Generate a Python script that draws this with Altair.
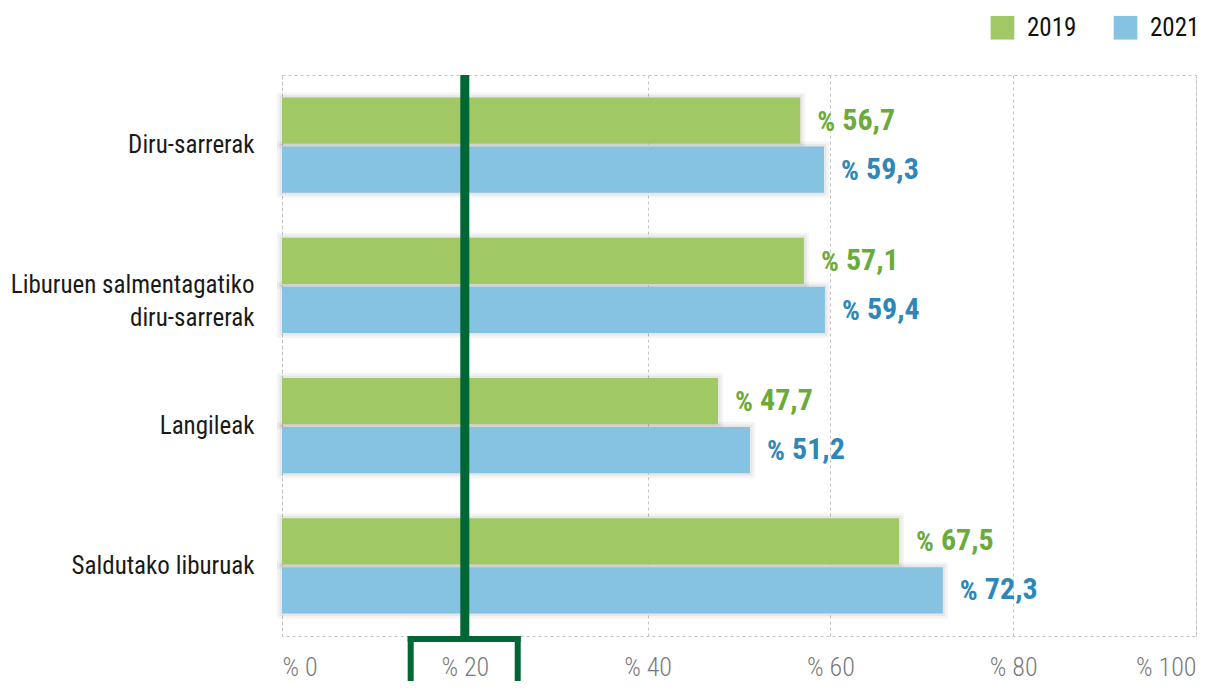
import altair as alt
import pandas as pd

categories = ["Diru-sarrerak", "Liburuen salmentagatiko diru-sarrerak", "Langileak", "Saldutako liburuak"]
years = ["2019", "2021"]
v2019 = [56.7, 57.1, 47.7, 67.5]
v2021 = [59.3, 59.4, 51.2, 72.3]
x_ticks = [0, 20, 40, 60, 80, 100]
highlight = 20
box_edges = [14.08, 25.79]

rows = []
for c, a, b in zip(categories, v2019, v2021):
    rows.append({"cat": c, "year": "2019", "v": a, "lab": f"{a:.1f}".replace(".", ",")})
    rows.append({"cat": c, "year": "2021", "v": b, "lab": f"{b:.1f}".replace(".", ",")})
df = pd.DataFrame(rows)

FONT = "'Liberation Sans Narrow', 'Roboto Condensed', Roboto, sans-serif"
GREEN, BLUE = "#a0c864", "#86c2e2"
TGREEN, TBLUE = "#6aab3c", "#2e87b8"
DARK = "#006633"

W, H = 914, 561

y_enc = alt.Y("cat:N", sort=categories, title=None,
              scale=alt.Scale(paddingInner=0.32, paddingOuter=0.16),
              axis=alt.Axis(domain=False, ticks=False, labelPadding=28, labelFontSize=25,
                            labelColor="#1a1a1a", labelFont=FONT, labelLineHeight=33,
                            labelLimit=400, labelFontWeight="normal",
                            labelExpr="datum.label == 'Liburuen salmentagatiko diru-sarrerak' ? ['Liburuen salmentagatiko', 'diru-sarrerak'] : datum.label"))
x_enc = alt.X("v:Q", title=None, scale=alt.Scale(domain=[0, 100], nice=False),
              axis=alt.Axis(values=x_ticks, domain=False, ticks=False, grid=True,
                            gridDash=[3, 3], gridColor="#c4c4c4", labelFontSize=26,
                            labelFont=FONT, labelColor="#7a7a7a", labelFontWeight=300,
                            labelPadding=18, labelExpr="'% ' + datum.value"))
yoff = alt.YOffset("year:N", sort=years, scale=alt.Scale(paddingInner=0.06))

base = alt.Chart(df)

shadow = base.mark_bar(fill="transparent", stroke="black", strokeWidth=10, strokeOpacity=0.045).encode(
    x=x_enc, y=y_enc, yOffset=yoff)
shadow2 = base.mark_bar(fill="transparent", stroke="black", strokeWidth=5, strokeOpacity=0.05).encode(
    x="v:Q", y=alt.Y("cat:N", sort=categories), yOffset=yoff)

bars = base.mark_bar().encode(
    x="v:Q", y=alt.Y("cat:N", sort=categories), yOffset=yoff,
    color=alt.Color("year:N", sort=years,
                    scale=alt.Scale(domain=years, range=[GREEN, BLUE]),
                    legend=alt.Legend(title=None, orient="none", direction="horizontal",
                                      legendX=708, legendY=-60, symbolType="square",
                                      symbolSize=560, symbolStrokeWidth=0, symbolOpacity=1,
                                      labelFont=FONT, labelFontSize=25, labelColor="#111",
                                      labelOffset=12, columnPadding=36, padding=0)))

tcolor = alt.condition("datum.year == '2019'", alt.value(TGREEN), alt.value(TBLUE))
pct = base.mark_text(align="left", baseline="middle", dx=17, dy=2, fontSize=28, fontWeight="bold", font=FONT).encode(
    x="v:Q", y=alt.Y("cat:N", sort=categories), yOffset=yoff, text=alt.value("%"), color=tcolor)
num = base.mark_text(align="left", baseline="middle", dx=42, fontSize=30, fontWeight="bold", font=FONT).encode(
    x="v:Q", y=alt.Y("cat:N", sort=categories), yOffset=yoff, text="lab:N", color=tcolor)

main_line = alt.Chart(pd.DataFrame({"x": [highlight]})).mark_rule(color=DARK, strokeWidth=9).encode(
    x="x:Q", y=alt.value(0), y2=alt.value(H + 6))
box_sides = alt.Chart(pd.DataFrame({"x": box_edges})).mark_rule(color=DARK, strokeWidth=6).encode(
    x="x:Q", y=alt.value(H), y2=alt.value(H + 140))
box_top = alt.Chart(pd.DataFrame({"x": [box_edges[0]], "x2": [box_edges[1]]})).mark_rule(
    color=DARK, strokeWidth=6, strokeCap="square").encode(
    x="x:Q", x2="x2:Q", y=alt.value(H + 3))

chart = alt.layer(shadow, shadow2, bars, pct, num, main_line, box_sides, box_top).properties(
    width=W, height=H,
    autosize=alt.AutoSizeParams(type="none"),
    padding={"left": 274, "top": 67, "right": 22, "bottom": 45},
).configure_view(stroke="#c4c4c4", strokeDash=[3, 3]).configure_axis(labelFont=FONT)

chart.save("out.html", embed_options={"renderer": "svg", "actions": False})
